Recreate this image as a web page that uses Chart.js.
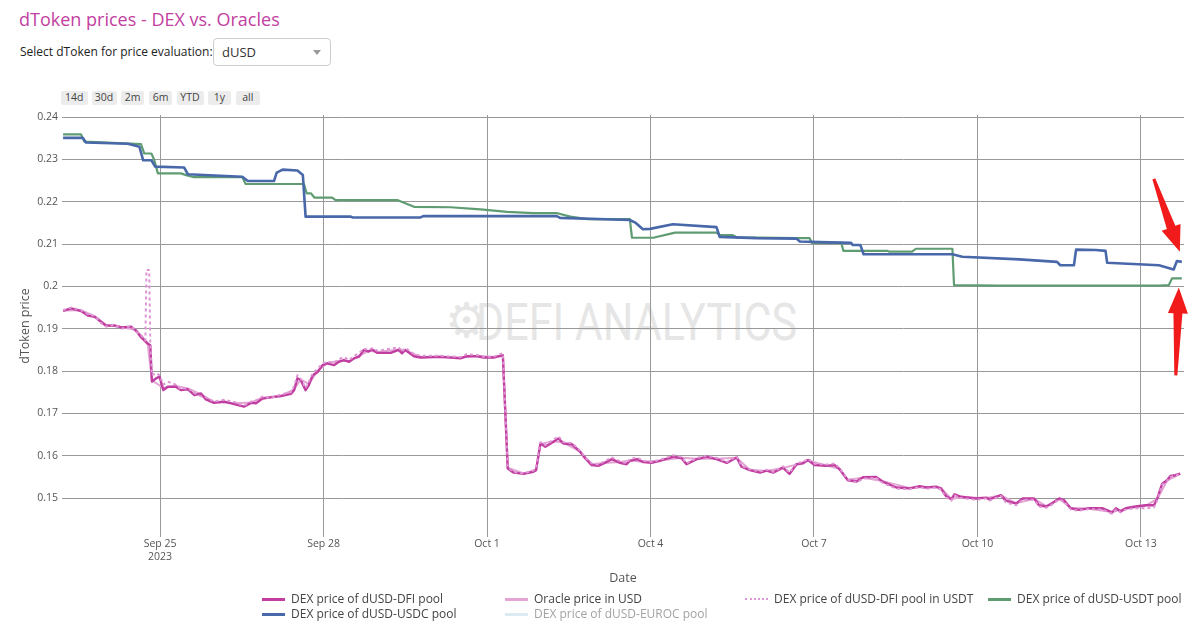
<!DOCTYPE html>
<html><head><meta charset="utf-8">
<script src="https://cdn.jsdelivr.net/npm/chart.js@4.4.1/dist/chart.umd.min.js"></script>
<style>
html,body{margin:0;padding:0;background:#fff;}
body{width:1200px;height:625px;position:relative;overflow:hidden;font-family:"Open Sans",sans-serif;}
#title{position:absolute;left:19px;top:10px;font-size:18px;line-height:18px;color:#c2409f;font-weight:500;white-space:nowrap;}
#sel{position:absolute;left:20px;top:38px;height:28px;line-height:28px;font-size:12px;color:#222;white-space:nowrap;}
#dd{position:absolute;left:213px;top:38px;width:118px;height:28px;box-sizing:border-box;border:1px solid #ccc;border-radius:4px;font-size:13px;line-height:26px;padding-left:8px;color:#333;}
#dd .caret{position:absolute;right:9px;top:11px;width:0;height:0;border-left:4px solid transparent;border-right:4px solid transparent;border-top:5px solid #999;}
.btn{position:absolute;top:91px;height:13.5px;line-height:13.5px;font-size:10.5px;text-align:center;background:#ececec;color:#444;border-radius:2px;}
#wm{position:absolute;left:476px;top:297px;font-family:"Liberation Sans Narrow","Roboto",sans-serif;font-size:51px;line-height:51px;color:#e6e6e6;white-space:nowrap;transform-origin:0 0;}
#gear{position:absolute;left:445px;top:294px;font-family:"DejaVu Sans",sans-serif;font-size:48px;line-height:52px;color:#e6e6e6;}
#c{position:absolute;left:0;top:0;}
.lg{position:absolute;height:16px;line-height:16px;font-size:12px;color:#444;white-space:nowrap;}
.sw{position:absolute;width:23px;height:0;}
</style></head>
<body>
<div id="title">dToken prices - DEX vs. Oracles</div>
<div id="sel">Select dToken for price evaluation:</div>
<div id="dd">dUSD<span class="caret"></span></div>
<div id="btns"></div>
<div id="gear">⚙</div>
<div id="wm">DEFI ANALYTICS</div>
<canvas id="c" width="1200" height="625"></canvas>
<div id="legend"></div>
<script>
// ---------- data (x = days relative to Sep 25 2023 00:00) ----------
const xTickVals = [0, 3, 6, 9, 12, 15, 18];
const xTickLabels = [["Sep 25", "2023"], "Sep 28", "Oct 1", "Oct 4", "Oct 7", "Oct 10", "Oct 13"];
const yTickVals = [0.15, 0.16, 0.17, 0.18, 0.19, 0.2, 0.21, 0.22, 0.23, 0.24];
const yTickLabels = ["0.15", "0.16", "0.17", "0.18", "0.19", "0.2", "0.21", "0.22", "0.23", "0.24"];
const rangeButtons = ["14d", "30d", "2m", "6m", "YTD", "1y", "all"];
const seriesNames = ["DEX price of dUSD-DFI pool", "Oracle price in USD", "DEX price of dUSD-DFI pool in USDT",
  "DEX price of dUSD-USDT pool", "DEX price of dUSD-USDC pool", "DEX price of dUSD-EUROC pool"];

const dfiX = [-1.78,-1.63,-1.45,-1.32,-1.20,-1.08,-0.99,-0.84,-0.71,-0.53,-0.44,-0.35,-0.23,-0.18,-0.15,-0.07,-0.01,0.06,0.14,0.29,0.38,0.51,0.63,0.75,0.84,0.99,1.18,1.36,1.54,1.67,1.76,1.88,2.03,2.22,2.40,2.46,2.52,2.58,2.67,2.73,2.80,2.89,2.98,3.07,3.19,3.28,3.37,3.47,3.56,3.65,3.74,3.83,3.89,3.99,4.23,4.38,4.44,4.50,4.66,4.78,5.15,5.51,5.63,5.82,5.94,6.12,6.29,6.38,6.49,6.67,6.85,6.90,6.98,7.07,7.22,7.31,7.40,7.56,7.71,7.80,7.92,8.04,8.14,8.29,8.44,8.56,8.62,8.75,8.87,9.02,9.17,9.42,9.57,9.66,9.85,10.03,10.21,10.40,10.58,10.67,10.82,11.01,11.13,11.25,11.43,11.55,11.68,11.80,11.89,12.01,12.23,12.38,12.47,12.62,12.78,12.90,13.14,13.26,13.51,13.75,13.94,14.06,14.24,14.33,14.42,14.52,14.58,14.70,14.97,15.16,15.22,15.43,15.52,15.71,15.83,16.04,16.13,16.26,16.35,16.50,16.59,16.71,16.86,17.05,17.29,17.47,17.54,17.63,17.72,17.90,18.09,18.24,18.30,18.39,18.48,18.54,18.63,18.72];
const dfiY = [0.1942,0.1948,0.1942,0.1931,0.1928,0.1916,0.1907,0.1908,0.1903,0.1905,0.1895,0.1880,0.1865,0.1861,0.1775,0.1783,0.1787,0.1755,0.1763,0.1763,0.1755,0.1757,0.1743,0.1747,0.1733,0.1725,0.1728,0.1722,0.1716,0.1725,0.1724,0.1735,0.1738,0.1741,0.1746,0.1755,0.1783,0.1779,0.1755,0.1767,0.1790,0.1798,0.1814,0.1818,0.1814,0.1822,0.1826,0.1822,0.1830,0.1834,0.1850,0.1846,0.1851,0.1843,0.1843,0.1850,0.1842,0.1850,0.1835,0.1832,0.1834,0.1830,0.1835,0.1835,0.1832,0.1832,0.1837,0.1570,0.1560,0.1557,0.1562,0.1566,0.1629,0.1621,0.1633,0.1641,0.1629,0.1627,0.1609,0.1594,0.1578,0.1576,0.1582,0.1592,0.1583,0.1580,0.1588,0.1592,0.1585,0.1583,0.1588,0.1598,0.1594,0.1580,0.1592,0.1598,0.1592,0.1583,0.1596,0.1574,0.1566,0.1560,0.1565,0.1560,0.1572,0.1557,0.1580,0.1582,0.1590,0.1578,0.1576,0.1578,0.1568,0.1542,0.1539,0.1549,0.1550,0.1539,0.1525,0.1523,0.1528,0.1525,0.1527,0.1523,0.1505,0.1497,0.1509,0.1503,0.1499,0.1501,0.1497,0.1507,0.1494,0.1487,0.1499,0.1499,0.1483,0.1480,0.1486,0.1499,0.1495,0.1476,0.1472,0.1476,0.1476,0.1466,0.1476,0.1468,0.1476,0.1480,0.1483,0.1483,0.1499,0.1534,0.1542,0.1552,0.1554,0.1558];

const oracleX = [-1.78,-1.45,-1.20,-0.99,-0.71,-0.44,-0.23,-0.15,0.06,0.29,0.51,0.75,0.99,1.36,1.67,1.88,2.22,2.46,2.58,2.73,2.89,3.07,3.28,3.47,3.65,3.83,3.99,4.38,4.50,4.78,5.51,5.82,6.12,6.29,6.38,6.67,6.90,6.98,7.22,7.40,7.71,7.92,8.14,8.44,8.62,8.87,9.17,9.57,9.85,10.21,10.58,10.82,11.13,11.43,11.68,11.89,12.23,12.47,12.62,12.90,13.26,13.75,14.06,14.33,14.52,14.70,15.16,15.43,15.71,16.04,16.26,16.50,16.71,17.05,17.47,17.72,18.09,18.30,18.48,18.72];
const oracleY = [0.1943,0.1944,0.1930,0.1909,0.1904,0.1897,0.1867,0.1778,0.1760,0.1765,0.1759,0.1745,0.1727,0.1724,0.1726,0.1737,0.1742,0.1757,0.1780,0.1770,0.1800,0.1819,0.1824,0.1824,0.1836,0.1848,0.1845,0.1851,0.1849,0.1834,0.1832,0.1836,0.1833,0.1838,0.1572,0.1558,0.1567,0.1628,0.1634,0.1631,0.1610,0.1580,0.1583,0.1585,0.1589,0.1586,0.1589,0.1595,0.1593,0.1593,0.1595,0.1567,0.1564,0.1571,0.1579,0.1589,0.1577,0.1569,0.1543,0.1548,0.1540,0.1524,0.1526,0.1524,0.1498,0.1502,0.1500,0.1506,0.1488,0.1498,0.1481,0.1498,0.1477,0.1475,0.1467,0.1475,0.1482,0.1498,0.1541,0.1557];

const dfiUsdtX = [-1.78,-1.63,-1.45,-1.32,-1.20,-1.08,-0.99,-0.84,-0.71,-0.53,-0.44,-0.35,-0.27,-0.25,-0.20,-0.18,-0.15,-0.07,-0.01,0.06,0.14,0.29,0.38,0.51,0.63,0.75,0.84,0.99,1.18,1.36,1.54,1.67,1.76,1.88,2.03,2.22,2.40,2.46,2.52,2.58,2.67,2.73,2.80,2.89,2.98,3.07,3.19,3.28,3.37,3.47,3.56,3.65,3.74,3.83,3.89,3.99,4.23,4.38,4.44,4.50,4.66,4.78,5.15,5.51,5.63,5.82,5.94,6.12,6.29,6.38,6.49,6.67,6.85,6.90,6.98,7.07,7.22,7.31,7.40,7.56,7.71,7.80,7.92,8.04,8.14,8.29,8.44,8.56,8.62,8.75,8.87,9.02,9.17,9.42,9.57,9.66,9.85,10.03,10.21,10.40,10.58,10.67,10.82,11.01,11.13,11.25,11.43,11.55,11.68,11.80,11.89,12.01,12.23,12.38,12.47,12.62,12.78,12.90,13.14,13.26,13.51,13.75,13.94,14.06,14.24,14.33,14.42,14.52,14.58,14.70,14.97,15.16,15.22,15.43,15.52,15.71,15.83,16.04,16.13,16.26,16.35,16.50,16.59,16.71,16.86,17.05,17.29,17.47,17.54,17.63,17.72,17.90,18.09,18.24,18.30,18.39,18.48,18.54,18.63,18.72];
const dfiUsdtY = [0.1944,0.1950,0.1944,0.1934,0.1930,0.1913,0.1905,0.1910,0.1900,0.1907,0.1893,0.1885,0.1872,0.2039,0.2039,0.1868,0.1790,0.1795,0.1790,0.1768,0.1775,0.1768,0.1757,0.1760,0.1748,0.1740,0.1738,0.1728,0.1732,0.1727,0.1718,0.1728,0.1730,0.1740,0.1736,0.1745,0.1750,0.1765,0.1790,0.1782,0.1760,0.1775,0.1795,0.1805,0.1818,0.1822,0.1820,0.1828,0.1833,0.1826,0.1836,0.1842,0.1853,0.1850,0.1854,0.1848,0.1853,0.1856,0.1846,0.1855,0.1840,0.1836,0.1836,0.1833,0.1840,0.1838,0.1834,0.1834,0.1842,0.1572,0.1562,0.1558,0.1565,0.1570,0.1632,0.1625,0.1638,0.1646,0.1632,0.1630,0.1612,0.1596,0.1582,0.1579,0.1586,0.1596,0.1587,0.1582,0.1592,0.1596,0.1588,0.1585,0.1590,0.1601,0.1597,0.1582,0.1595,0.1600,0.1595,0.1585,0.1599,0.1576,0.1568,0.1563,0.1567,0.1562,0.1575,0.1560,0.1583,0.1585,0.1593,0.1581,0.1579,0.1582,0.1570,0.1544,0.1537,0.1546,0.1548,0.1536,0.1522,0.1521,0.1526,0.1522,0.1525,0.1520,0.1502,0.1494,0.1506,0.1500,0.1496,0.1499,0.1494,0.1505,0.1490,0.1483,0.1496,0.1496,0.1480,0.1477,0.1483,0.1497,0.1492,0.1473,0.1470,0.1474,0.1473,0.1463,0.1473,0.1466,0.1473,0.1476,0.1476,0.1478,0.1495,0.1532,0.1540,0.1550,0.1553,0.1557];

const usdtX = [-1.78,-1.45,-1.39,-0.35,-0.29,-0.16,-0.11,-0.04,0.38,0.48,0.62,1.51,1.57,2.64,2.69,2.77,2.83,3.16,3.22,4.35,4.66,5.33,5.88,6.37,6.85,7.29,7.53,7.84,8.62,8.66,9.05,9.45,10.21,10.27,10.51,10.58,11.68,11.92,11.96,12.50,12.54,13.35,13.38,13.80,13.87,14.54,14.57,15.40,18.33,18.51,18.57,18.75];
const usdtY = [0.2359,0.2359,0.2342,0.2336,0.2314,0.2314,0.2300,0.2267,0.2267,0.2263,0.2258,0.2258,0.2242,0.2242,0.2220,0.2220,0.2210,0.2210,0.2204,0.2204,0.2188,0.2187,0.2182,0.2176,0.2173,0.2173,0.2165,0.2159,0.2159,0.2115,0.2115,0.2127,0.2127,0.2121,0.2121,0.2116,0.2114,0.2114,0.2103,0.2103,0.2084,0.2084,0.2082,0.2082,0.2089,0.2089,0.2003,0.2002,0.2002,0.2003,0.2019,0.2019];

const usdcX = [-1.78,-1.42,-1.36,-0.59,-0.38,-0.31,-0.16,-0.09,0.44,0.51,1.51,1.61,2.09,2.14,2.25,2.52,2.62,2.67,3.50,3.53,4.78,4.83,7.28,7.34,8.62,8.73,8.86,8.99,9.41,10.21,10.27,10.94,11.68,11.74,12.29,12.68,12.71,12.85,12.91,14.54,14.72,15.77,16.46,16.52,16.77,16.81,17.17,17.35,17.38,18.33,18.60,18.66,18.75];
const usdcY = [0.2351,0.2351,0.2340,0.2337,0.2330,0.2298,0.2298,0.2283,0.2281,0.2265,0.2259,0.2249,0.2249,0.2269,0.2276,0.2274,0.2263,0.2165,0.2165,0.2163,0.2163,0.2166,0.2166,0.2162,0.2157,0.2150,0.2135,0.2136,0.2147,0.2140,0.2117,0.2114,0.2113,0.2106,0.2104,0.2103,0.2098,0.2098,0.2076,0.2076,0.2070,0.2064,0.2058,0.2050,0.2050,0.2087,0.2086,0.2084,0.2056,0.2050,0.2040,0.2060,0.2058];

// ---------- top UI ----------
const btnLeft = [61, 91.5, 121, 149, 176.5, 208, 236];
const btnWidth = [26.5, 25, 23, 23, 27, 23, 23.5];
const btnBox = document.getElementById('btns');
rangeButtons.forEach((t, i) => {
  const d = document.createElement('div');
  d.className = 'btn'; d.textContent = t;
  d.style.left = btnLeft[i] + 'px'; d.style.width = btnWidth[i] + 'px';
  btnBox.appendChild(d);
});
// fit watermark width
(function(){
  const wm = document.getElementById('wm');
  const w = wm.getBoundingClientRect().width;
  wm.style.transform = 'scaleX(' + (321 / w) + ')';
})();

// ---------- legend (HTML) ----------
const colors = ['#c13d9f', '#e3a5d4', '#dd95d3', '#5f9c72', '#4868aa', '#b9d5e6'];
const legendPos = [[262, 599], [505, 599], [745, 599], [988, 599], [262, 614], [505, 614]];
const lg = document.getElementById('legend');
seriesNames.forEach((n, i) => {
  const [lx, ly] = legendPos[i];
  const sw = document.createElement('div');
  sw.className = 'sw';
  sw.style.left = lx + 'px'; sw.style.top = (ly - 1) + 'px';
  sw.style.borderTop = (i === 2 ? '2px dotted ' : '3px solid ') + colors[i];
  const tx = document.createElement('div');
  tx.className = 'lg'; tx.textContent = n;
  tx.style.left = (lx + 29) + 'px'; tx.style.top = (ly - 8) + 'px';
  if (i === 5) { sw.style.opacity = 0.5; tx.style.opacity = 0.5; }
  lg.appendChild(sw); lg.appendChild(tx);
});

// ---------- chart ----------
const mk = (xs, ys) => xs.map((x, i) => ({x: x, y: ys[i]}));

function drawArrow(ctx, x0, y0, x1, y1) {
  const dx = x1 - x0, dy = y1 - y0, L = Math.hypot(dx, dy);
  const ux = dx / L, uy = dy / L, nx = -uy, ny = ux;
  const hl = 26, hw = 10, sw0 = 1.5, sw1 = 4.5;
  const bx = x1 - ux * hl, by = y1 - uy * hl;
  ctx.save();
  ctx.fillStyle = '#f21b1b';
  ctx.beginPath();
  ctx.moveTo(x0 + nx * sw0, y0 + ny * sw0);
  ctx.lineTo(bx + nx * sw1, by + ny * sw1);
  ctx.lineTo(bx + nx * hw, by + ny * hw);
  ctx.lineTo(x1, y1);
  ctx.lineTo(bx - nx * hw, by - ny * hw);
  ctx.lineTo(bx - nx * sw1, by - ny * sw1);
  ctx.lineTo(x0 - nx * sw0, y0 - ny * sw0);
  ctx.closePath();
  ctx.fill();
  ctx.restore();
}
const arrowPlugin = {
  id: 'arrows',
  afterDatasetsDraw(chart) {
    const xs = chart.scales.x, ys = chart.scales.y, ctx = chart.ctx;
    const bx = xs.getPixelForValue(usdcX[usdcX.length - 1]);
    const by = ys.getPixelForValue(usdcY[usdcY.length - 1]);
    drawArrow(ctx, bx - 28, by - 83, bx - 2, by - 10);
    const gx = xs.getPixelForValue(usdtX[usdtX.length - 1]);
    const gy = ys.getPixelForValue(usdtY[usdtY.length - 1]);
    drawArrow(ctx, gx - 6, gy + 97, gx - 3, gy + 9);
  }
};

const tickFont = {family: 'Open Sans', size: 10.5, lineHeight: 1.25};
new Chart(document.getElementById('c'), {
  type: 'line',
  data: {
    datasets: [
      {label: seriesNames[0], data: mk(dfiX, dfiY), borderColor: colors[0], borderWidth: 2.4, order: 6},
      {label: seriesNames[1], data: mk(oracleX, oracleY), borderColor: colors[1], borderWidth: 2, order: 7},
      {label: seriesNames[2], data: mk(dfiUsdtX, dfiUsdtY), borderColor: colors[2], borderWidth: 2, borderDash: [3, 3], order: 4},
      {label: seriesNames[3], data: mk(usdtX, usdtY), borderColor: colors[3], borderWidth: 2.2, order: 3},
      {label: seriesNames[4], data: mk(usdcX, usdcY), borderColor: colors[4], borderWidth: 2.6, order: 2},
      {label: seriesNames[5], data: [], borderColor: colors[5], hidden: true, order: 1}
    ]
  },
  options: {
    responsive: false,
    animation: false,
    devicePixelRatio: 1,
    elements: {point: {radius: 0}, line: {tension: 0, borderJoinStyle: 'round', fill: false}},
    layout: {padding: {top: 115, left: 0, right: 16, bottom: 38}},
    plugins: {legend: {display: false}, tooltip: {enabled: false}},
    scales: {
      x: {
        type: 'linear', min: -1.80, max: 18.79,
        afterBuildTicks: s => { s.ticks = xTickVals.map(v => ({value: v})); },
        afterFit: s => { s.height = 50; },
        ticks: {autoSkip: false, maxRotation: 0, padding: 0, font: tickFont, color: '#555',
          callback: (v, i) => xTickLabels[i]},
        grid: {color: '#999', lineWidth: 1, drawTicks: false},
        border: {display: false},
        title: {display: true, text: 'Date', color: '#555', font: {family: 'Open Sans', size: 12.5}, padding: {top: 0, bottom: 1}}
      },
      y: {
        type: 'linear', min: 0.1408, max: 0.2405,
        afterBuildTicks: s => { s.ticks = yTickVals.map(v => ({value: v})); },
        afterFit: s => { s.width = 62; },
        ticks: {autoSkip: false, padding: 4, font: tickFont, color: '#555',
          callback: (v, i) => yTickLabels[i]},
        grid: {color: '#999', lineWidth: 1, drawTicks: false},
        border: {display: false},
        title: {display: true, text: 'dToken price', color: '#555', font: {family: 'Open Sans', size: 12.5}, padding: {top: 18, bottom: 0}}
      }
    }
  },
  plugins: [arrowPlugin]
});
</script>
</body></html>
